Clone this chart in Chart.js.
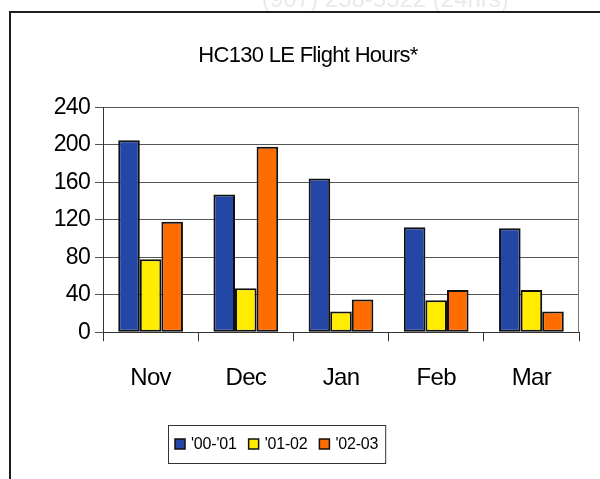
<!DOCTYPE html>
<html>
<head>
<meta charset="utf-8">
<title>HC130 LE Flight Hours</title>
<script src="https://cdn.jsdelivr.net/npm/chart.js@4.4.1/dist/chart.umd.min.js"></script>
<style>
    html, body { margin: 0; padding: 0; background: #fff; }
    #wrap { position: relative; width: 600px; height: 479px; }
</style>
</head>
<body>
<div id="wrap"><canvas id="hoursChart" width="600" height="479"></canvas></div>
<script>
/*********************** Data ************************/
var months = ['Nov', 'Dec', 'Jan', 'Feb', 'Mar'];
var seasons = ["'00-'01", "'01-02", "'02-03"];
var hours0001 = [205, 147, 164, 112, 111];
var hours0102 = [78, 47, 22, 34, 45];
var hours0203 = [118, 198, 35, 45, 22];
var yMin = 0, yMax = 240, yStep = 40;

var colors = ['#2447a6', '#ffec00', '#ff6c00'];
var fontFamily = "'Liberation Sans', Arial, sans-serif";

/*********************** Page frame + bleed text ************************/
var framePlugin = {
    id: 'frame',
    beforeDraw: function (chart) {
        var ctx = chart.ctx;
        ctx.save();
        ctx.fillStyle = '#fff';
        ctx.fillRect(0, 0, chart.width, chart.height);
        // faint text showing through from the scanned page
        ctx.fillStyle = '#eaeaea';
        ctx.font = "24px " + fontFamily;
        ctx.textBaseline = 'alphabetic';
        ctx.fillText('(907) 258-5522 (24hrs)', 262, 7);
        ctx.strokeStyle = '#1e1e1e';
        ctx.lineWidth = 2;
        ctx.beginPath();
        ctx.moveTo(10, chart.height);
        ctx.lineTo(10, 12);
        ctx.lineTo(chart.width, 12);
        ctx.stroke();
        ctx.restore();
        // the printed text is set a little tight
        ctx.letterSpacing = '-0.7px';
    },
    beforeDatasetsDraw: function (chart) {
        // right edge of the plot area
        var a = chart.chartArea, ctx = chart.ctx;
        ctx.save();
        ctx.strokeStyle = '#777';
        ctx.lineWidth = 1;
        ctx.beginPath();
        ctx.moveTo(a.right - 0.5, a.top);
        ctx.lineTo(a.right - 0.5, a.bottom);
        ctx.stroke();
        ctx.restore();
    }
};

/*********************** Boxed legend ************************/
var boxLegend = {
    id: 'boxLegend',
    afterDraw: function (chart) {
        var ctx = chart.ctx;
        var left = 168, top = 425, height = 38;
        ctx.save();
        ctx.letterSpacing = '-0.2px';
        ctx.font = "16px " + fontFamily;
        ctx.textBaseline = 'middle';
        var x = left + 7;
        var items = chart.data.datasets.map(function (ds) {
            var w = ctx.measureText(ds.label).width;
            var it = { label: ds.label, color: ds.backgroundColor, x: x, w: w };
            x += 10 + 6 + w + 12;
            return it;
        });
        var width = x - 12 + 7 - left;
        ctx.strokeStyle = '#333';
        ctx.lineWidth = 1;
        ctx.strokeRect(left + 0.5, top + 0.5, width, height);
        var mid = top + height / 2;
        items.forEach(function (it) {
            ctx.fillStyle = it.color;
            ctx.fillRect(it.x, mid - 5, 10, 10);
            ctx.strokeStyle = '#111';
            ctx.lineWidth = 1.5;
            ctx.strokeRect(it.x, mid - 5, 10, 10);
            ctx.fillStyle = '#000';
            ctx.fillText(it.label, it.x + 16, mid + 1);
        });
        ctx.restore();
        ctx.letterSpacing = '0px';
    }
};

/*********************** Chart ************************/
var barData = {
    labels: months,
    datasets: [
        { label: seasons[0], data: hours0001, backgroundColor: colors[0] },
        { label: seasons[1], data: hours0102, backgroundColor: colors[1] },
        { label: seasons[2], data: hours0203, backgroundColor: colors[2] }
    ].map(function (ds) {
        ds.borderColor = '#111';
        ds.borderWidth = 2;
        ds.borderSkipped = false;
        ds.categoryPercentage = 0.68;
        ds.barPercentage = 1;
        return ds;
    })
};

var ctx = document.getElementById('hoursChart').getContext('2d');
var hoursChart = new Chart(ctx, {
    type: 'bar',
    data: barData,
    plugins: [framePlugin, boxLegend],
    options: {
        responsive: false,
        animation: false,
        layout: { padding: { left: 37, right: 21, top: 43, bottom: 63 } },
        plugins: {
            legend: { display: false },
            tooltip: { enabled: false },
            title: {
                display: true,
                text: 'HC130 LE Flight Hours*',
                color: '#000',
                font: { family: fontFamily, size: 22, weight: 'normal' },
                padding: { top: 0, bottom: 38 }
            }
        },
        scales: {
            x: {
                grid: { drawOnChartArea: false, drawTicks: true, tickLength: 9, color: '#333' },
                border: { color: '#333', width: 1 },
                ticks: { color: '#000', padding: 23, font: { family: fontFamily, size: 24 } }
            },
            y: {
                min: yMin,
                max: yMax,
                afterFit: function (scale) { scale.width = 66; },
                grid: { color: '#555', tickLength: 8 },
                border: { color: '#333', width: 1 },
                ticks: { stepSize: yStep, color: '#000', padding: 5, font: { family: fontFamily, size: 23 } }
            }
        }
    }
});
</script>
</body>
</html>
